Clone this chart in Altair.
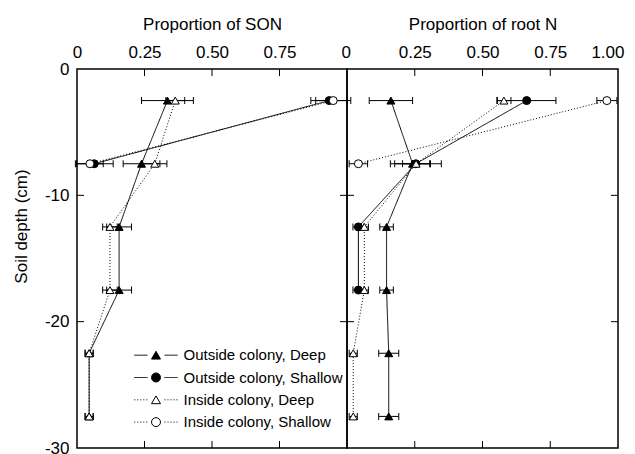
import altair as alt
import pandas as pd

# ---------------- data ----------------
depths = [-2.5, -7.5, -12.5, -17.5, -22.5, -27.5]
series_names = ["Outside colony, Deep", "Outside colony, Shallow",
                "Inside colony, Deep", "Inside colony, Shallow"]
line_ids = ["L1", "L2", "L3", "L4"]

# Proportion of SON (left panel)
son_out_deep = [0.335, 0.239, 0.156, 0.156, 0.045, 0.045]
son_out_deep_err = [0.096, 0.068, 0.046, 0.046, 0.015, 0.015]
son_out_shallow = [0.934, 0.064]
son_out_shallow_err = [0.068, 0.070]
son_in_deep = [0.364, 0.288, 0.122, 0.122, 0.045, 0.045]
son_in_deep_err = [0.035, 0.045, 0.027, 0.027, 0.015, 0.015]
son_in_shallow = [0.949, 0.048]
son_in_shallow_err = [0.065, 0.049]

# Proportion of root N (right panel)
root_out_deep = [0.162, 0.242, 0.146, 0.146, 0.154, 0.154]
root_out_deep_err = [0.080, 0.066, 0.025, 0.025, 0.037, 0.037]
root_out_shallow = [0.663, 0.254, 0.042, 0.042]
root_out_shallow_err = [0.108, 0.094, 0.020, 0.020]
root_in_deep = [0.579, 0.255, 0.064, 0.064, 0.023, 0.023]
root_in_deep_err = [0.026, 0.050, 0.015, 0.015, 0.015, 0.015]
root_in_shallow = [0.959, 0.042]
root_in_shallow_err = [0.037, 0.034]

son_tick_labels = [0, 0.25, 0.5, 0.75]
root_tick_labels = [0, 0.25, 0.5, 0.75, 1.0]
inner_x_ticks = [0.25, 0.5, 0.75]
depth_tick_labels = [0, -10, -20, -30]
inner_y_ticks = [-10, -20]


def build(vals_list, errs_list):
    rows = []
    for name, lid, vals, errs in zip(series_names, line_ids, vals_list, errs_list):
        for d, v, e in zip(depths, vals, errs):
            rows.append({"series": name, "line_id": lid, "depth": d,
                         "value": v, "lo": v - e, "hi": v + e})
    return pd.DataFrame(rows)


son_df = build([son_out_deep, son_out_shallow, son_in_deep, son_in_shallow],
               [son_out_deep_err, son_out_shallow_err, son_in_deep_err, son_in_shallow_err])
root_df = build([root_out_deep, root_out_shallow, root_in_deep, root_in_shallow],
                [root_out_deep_err, root_out_shallow_err, root_in_deep_err, root_in_shallow_err])

H = 379
FONT = "Liberation Sans"
LEG_X = 71.5
LEG_Y = 278.7
LEG_ROWPAD = 6.3
LEG_SIZE = 80
LEG_LABEL_OFFSET = 20

xsc = alt.Scale(domain=[0, 1], nice=False, zero=False)
ysc = alt.Scale(domain=[-30, 0], nice=False, zero=False)


def panel(df, title, xvals, W, show_y, show_legend, flush):
    x_axis = alt.Axis(orient="top", values=xvals, title=title,
                      labelExpr="datum.value == 0 ? '0' : format(datum.value, '.2f')",
                      tickSize=0, domain=False, grid=False, labelPadding=8,
                      labelFlush=flush, labelFlushOffset=6, labelOverlap=False,
                      titlePadding=10, labelFontSize=17, titleFontSize=17,
                      titleFontWeight="normal", labelColor="black", titleColor="black",
                      labelFont=FONT, titleFont=FONT)
    if show_y:
        y_axis = alt.Axis(values=depth_tick_labels, title="Soil depth (cm)",
                          labelExpr="'' + datum.value",
                          tickSize=0, domain=False, grid=False, labelPadding=8,
                          labelFlush=False, labelOverlap=False,
                          labelFontSize=17, titleFontSize=17, titleFontWeight="normal",
                          labelColor="black", titleColor="black",
                          labelFont=FONT, titleFont=FONT,
                          titleX=-56, titleY=157, titleBaseline="middle",
                          titleAlign="center")
    else:
        y_axis = None

    if show_legend:
        line_leg = alt.Legend(orient="none", legendX=LEG_X, legendY=LEG_Y, title=None,
                              symbolType="M-4.85,0H-1.9M1.9,0H4.85",
                              symbolSize=LEG_SIZE, symbolStrokeColor="black",
                              symbolStrokeWidth=1, symbolFillColor="transparent",
                              labelExpr="''", labelFontSize=15, labelFont=FONT,
                              rowPadding=LEG_ROWPAD, padding=0,
                              labelOffset=LEG_LABEL_OFFSET)
        pt_leg = alt.Legend(orient="none", legendX=LEG_X, legendY=LEG_Y, title=None,
                            symbolSize=LEG_SIZE, symbolStrokeColor="black",
                            symbolStrokeWidth=1, labelFontSize=15, labelFont=FONT,
                            labelColor="black", rowPadding=LEG_ROWPAD, padding=0,
                            labelOffset=LEG_LABEL_OFFSET)
    else:
        line_leg = None
        pt_leg = None

    X = lambda f: alt.X(f, scale=xsc, axis=x_axis)
    Y = lambda f: alt.Y(f, scale=ysc, axis=y_axis)

    base = alt.Chart(df)
    lines = base.mark_line(color="black", strokeWidth=1).encode(
        x=X("value:Q"),
        y=Y("depth:Q"),
        strokeDash=alt.StrokeDash("line_id:N",
                                  scale=alt.Scale(domain=line_ids,
                                                  range=[[1, 0], [1, 0], [1, 2], [1, 2]]),
                                  legend=line_leg),
        order=alt.Order("depth:Q", sort="descending"),
    )
    bars = base.mark_rule(color="black", strokeWidth=1).encode(
        x=X("lo:Q"), x2="hi:Q", y=Y("depth:Q"),
    )
    cap_lo = base.mark_tick(color="black", orient="vertical", size=7, thickness=1,
                            opacity=1).encode(x=X("lo:Q"), y=Y("depth:Q"))
    cap_hi = base.mark_tick(color="black", orient="vertical", size=7, thickness=1,
                            opacity=1).encode(x=X("hi:Q"), y=Y("depth:Q"))
    pts = base.mark_point(filled=False, strokeWidth=1, size=64,
                          opacity=1, fillOpacity=1).encode(
        x=X("value:Q"),
        y=Y("depth:Q"),
        shape=alt.Shape("series:N",
                        scale=alt.Scale(domain=series_names,
                                        range=["triangle-up", "circle", "triangle-up", "circle"]),
                        legend=pt_leg),
        fill=alt.Fill("series:N",
                      scale=alt.Scale(domain=series_names,
                                      range=["black", "black", "white", "white"]),
                      legend=pt_leg),
        stroke=alt.Stroke("series:N",
                          scale=alt.Scale(domain=series_names,
                                          range=["black", "black", "black", "black"]),
                          legend=pt_leg),
    )

    xt = alt.Chart(pd.DataFrame({"xv": inner_x_ticks}))
    yt = alt.Chart(pd.DataFrame({"yv": inner_y_ticks}))
    tick_top = xt.mark_rule(color="black", strokeWidth=1).encode(
        x=X("xv:Q"), y=alt.value(0), y2=alt.value(7))
    tick_bot = xt.mark_rule(color="black", strokeWidth=1).encode(
        x=X("xv:Q"), y=alt.value(H - 7), y2=alt.value(H))
    tick_left = yt.mark_rule(color="black", strokeWidth=1).encode(
        y=Y("yv:Q"), x=alt.value(0), x2=alt.value(7))
    tick_right = yt.mark_rule(color="black", strokeWidth=1).encode(
        y=Y("yv:Q"), x=alt.value(W - 7), x2=alt.value(W))

    return alt.layer(lines, tick_top, tick_bot, tick_left, tick_right,
                     bars, cap_lo, cap_hi, pts).properties(width=W, height=H)


left = panel(son_df, "Proportion of SON", son_tick_labels, 270, True, True, False)
right = panel(root_df, "Proportion of root N", root_tick_labels, 271, False, False, True)

chart = alt.hconcat(left, right, spacing=0, bounds="flush").resolve_scale(
    shape="independent", fill="independent", strokeDash="independent",
    stroke="independent"
).resolve_legend(
    shape="independent", fill="independent", strokeDash="independent",
    stroke="independent"
).properties(
    padding={"left": 3, "top": 6, "right": 0, "bottom": 0}
).configure(font=FONT).configure_view(stroke="black", strokeWidth=1.5)

chart.save("out.html", embed_options={"renderer": "svg", "actions": False})
